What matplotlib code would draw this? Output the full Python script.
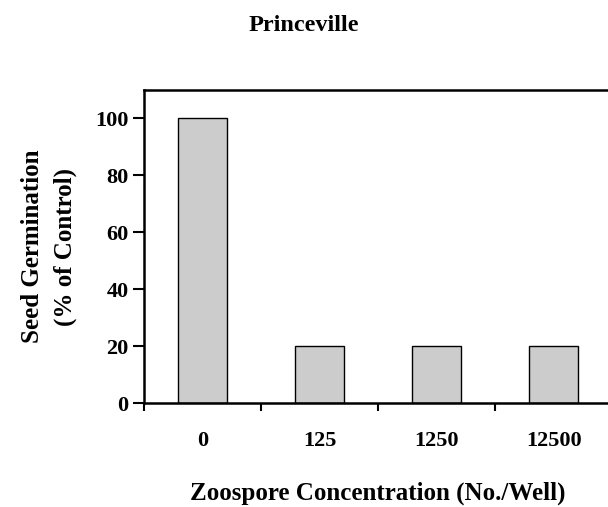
import matplotlib.pyplot as plt
import numpy as np

plt.rcParams.update({'font.family': 'Liberation Serif',
                     'font.weight': 'bold',
                     'axes.labelweight': 'bold'})

CONCENTRATIONS = ['0', '125', '1250', '12500']
GERMINATION = [100, 20, 20, 20]
YTICKS = [0, 20, 40, 60, 80, 100]

fig = plt.figure(figsize=(6.08, 5.07), dpi=100)
ax = fig.add_axes([0.2368, 0.2051, 0.770, 0.6174])

x = np.arange(len(CONCENTRATIONS))
ax.bar(x, GERMINATION, width=0.42, color='#cccccc', edgecolor='black', linewidth=1.0)

ax.set_xlim(-0.5, len(CONCENTRATIONS) - 0.5)
ax.set_ylim(0, 110)
ax.set_yticks(YTICKS)

# category labels sit between the boundary ticks
ax.set_xticks(x - 0.5)
ax.set_xticklabels([])
ax.set_xticks(x, minor=True)
ax.set_xticklabels(CONCENTRATIONS, minor=True, fontsize=16, fontweight='bold')
ax.tick_params(axis='x', which='minor', length=0, pad=20)
ax.tick_params(axis='x', which='major', direction='out', length=6, width=1.5)
ax.tick_params(axis='y', direction='out', length=8, width=1.5, labelsize=16, pad=3)

for side in ['left', 'bottom', 'top']:
    ax.spines[side].set_linewidth(1.8)
ax.spines['right'].set_visible(False)

ax.set_xlabel('Zoospore Concentration (No./Well)', fontsize=18, fontweight='bold', labelpad=22)
ax.set_ylabel('Seed Germination\n(% of Control)', fontsize=18, fontweight='bold', labelpad=13,
              linespacing=1.55)
fig.text(0.5, 0.95, 'Princeville', ha='center', va='center', fontsize=17.5, fontweight='bold')

fig.savefig('out.png', dpi=100)
